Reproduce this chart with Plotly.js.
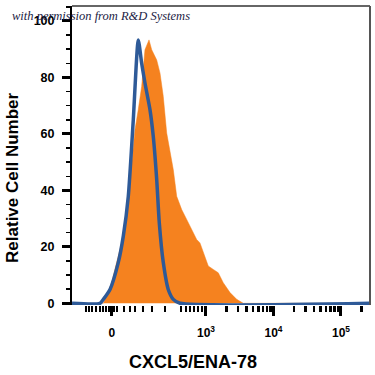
<!DOCTYPE html>
<html>
<head>
<meta charset="utf-8">
<script src="https://cdn.plot.ly/plotly-3.0.1.min.js"></script>
<style>html,body{margin:0;padding:0;background:#fff;}#chart{width:375px;height:375px;}</style>
</head>
<body>
<div id="chart"></div>
<script>
// Channel positions on the biexponential axis (1 unit = 1 decade; 3 = 10^3)
const stainedX = [1.015, 1.479, 1.529, 1.603, 1.677, 1.751, 1.825, 1.874, 1.948, 1.997, 2.047, 2.096, 2.156, 2.196, 2.270, 2.319, 2.367, 2.418, 2.456, 2.516, 2.566, 2.640, 2.714, 2.788, 2.862, 2.911, 2.960, 3.034, 3.108, 3.182, 3.256, 3.356, 3.455, 3.553, 5.430];
const stainedY = [0, 0, 2.6, 7.4, 14.5, 21.4, 30.8, 43.8, 61.5, 68.6, 76.8, 89.8, 93.3, 89.8, 86.2, 81.5, 73.3, 60.3, 55.6, 47.3, 37.9, 33.2, 29.7, 26.1, 22.6, 21.4, 17.9, 13.2, 12.0, 10.8, 7.3, 3.8, 1.4, 0, 0];

const isotypeX = [1.015, 1.430, 1.479, 1.578, 1.701, 1.775, 1.849, 1.923, 1.997, 2.047, 2.096, 2.170, 2.219, 2.270, 2.308, 2.367, 2.441, 2.516, 2.615, 5.430];
const isotypeY = [0, 0, 1.4, 4.9, 14.5, 23.8, 37.9, 65.0, 93.3, 85.0, 78.0, 68.6, 59.1, 43.8, 28.6, 14.5, 4.9, 1.4, 0, 0];

const xTickVals = [1.607, 3, 4, 5];
const xTickText = ['0', '10<sup>3</sup>', '10<sup>4</sup>', '10<sup>5</sup>'];
const xMinorLinear = [1.222, 1.267, 1.311, 1.370, 1.430, 1.474, 1.519, 1.563, 1.637, 1.681, 1.785, 1.874, 1.948, 2.067, 2.200, 2.393, 2.630, 2.704, 2.763, 2.822, 2.881, 2.941];
const yTickVals = [0, 20, 40, 60, 80, 100];

const xMinor = xMinorLinear.slice();
[3, 4].forEach(d => { for (let k = 2; k <= 9; k++) xMinor.push(d + Math.log10(k)); });
xMinor.push(5 + Math.log10(2));

const font = 'Liberation Sans, Arial, sans-serif';

const traces = [
  {
    x: stainedX, y: stainedY, type: 'scatter', mode: 'lines',
    fill: 'tozeroy', fillcolor: '#F5821F',
    line: {color: '#F5821F', width: 0.5, shape: 'linear'},
    hoverinfo: 'skip'
  },
  {
    x: isotypeX, y: isotypeY, type: 'scatter', mode: 'lines',
    line: {color: '#2E5A98', width: 3.5, shape: 'spline', smoothing: 0.6},
    cliponaxis: false,
    hoverinfo: 'skip'
  }
];

const layout = {
  width: 375, height: 375,
  margin: {l: 72, r: 5, t: 6, b: 70},
  paper_bgcolor: '#fff', plot_bgcolor: '#fff',
  showlegend: false,
  font: {family: font, color: '#000'},
  xaxis: {
    range: [1.015, 5.43],
    showgrid: false, zeroline: false, showline: false,
    tickmode: 'array', tickvals: xTickVals, ticktext: xTickText,
    ticks: 'outside', ticklen: 10, tickwidth: 3, tickcolor: '#000',
    ticklabelstandoff: 7,
    tickfont: {family: font, size: 12, color: '#000', weight: 'bold'},
    minor: {tickmode: 'array', tickvals: xMinor, ticks: 'outside', ticklen: 6, tickwidth: 2.5, tickcolor: '#000', showgrid: false}
  },
  yaxis: {
    range: [-0.6, 105.3],
    showgrid: false, zeroline: false,
    showline: true, linecolor: '#000', linewidth: 2,
    tickmode: 'array', tickvals: yTickVals,
    ticks: 'outside', ticklen: 8, tickwidth: 3, tickcolor: '#000',
    ticklabelstandoff: 5,
    tickfont: {family: font, size: 12.5, color: '#000', weight: 'bold'},
    minor: {dtick: 5, ticks: 'outside', ticklen: 4, tickwidth: 1.5, tickcolor: '#000', showgrid: false}
  },
  shapes: [
    {type: 'line', xref: 'paper', yref: 'paper', x0: 0, x1: 1, y0: 1, y1: 1, line: {color: '#666', width: 2}},
    {type: 'line', xref: 'paper', yref: 'paper', x0: 1, x1: 1, y0: 0, y1: 1, line: {color: '#555', width: 2}}
  ],
  annotations: [
    {text: 'Relative Cell Number', xref: 'paper', yref: 'paper', x: -0.198, y: 0.425,
     textangle: -90, showarrow: false, xanchor: 'center', yanchor: 'middle',
     font: {family: font, size: 17, color: '#000', weight: 'bold'}},
    {text: 'CXCL5/ENA-78', xref: 'paper', yref: 'paper', x: 0.406, y: -0.191,
     showarrow: false, xanchor: 'center', yanchor: 'middle',
     font: {family: font, size: 18, color: '#000', weight: 'bold'}},
    {text: 'with permission from R&amp;D Systems', xref: 'paper', yref: 'paper', x: -0.208, y: 0.967,
     showarrow: false, xanchor: 'left', yanchor: 'middle',
     font: {family: 'Liberation Serif, DejaVu Serif, serif', size: 12.5, color: '#1c1c44', style: 'italic'}}
  ]
};

Plotly.newPlot('chart', traces, layout, {staticPlot: true, displayModeBar: false});
</script>
</body>
</html>
